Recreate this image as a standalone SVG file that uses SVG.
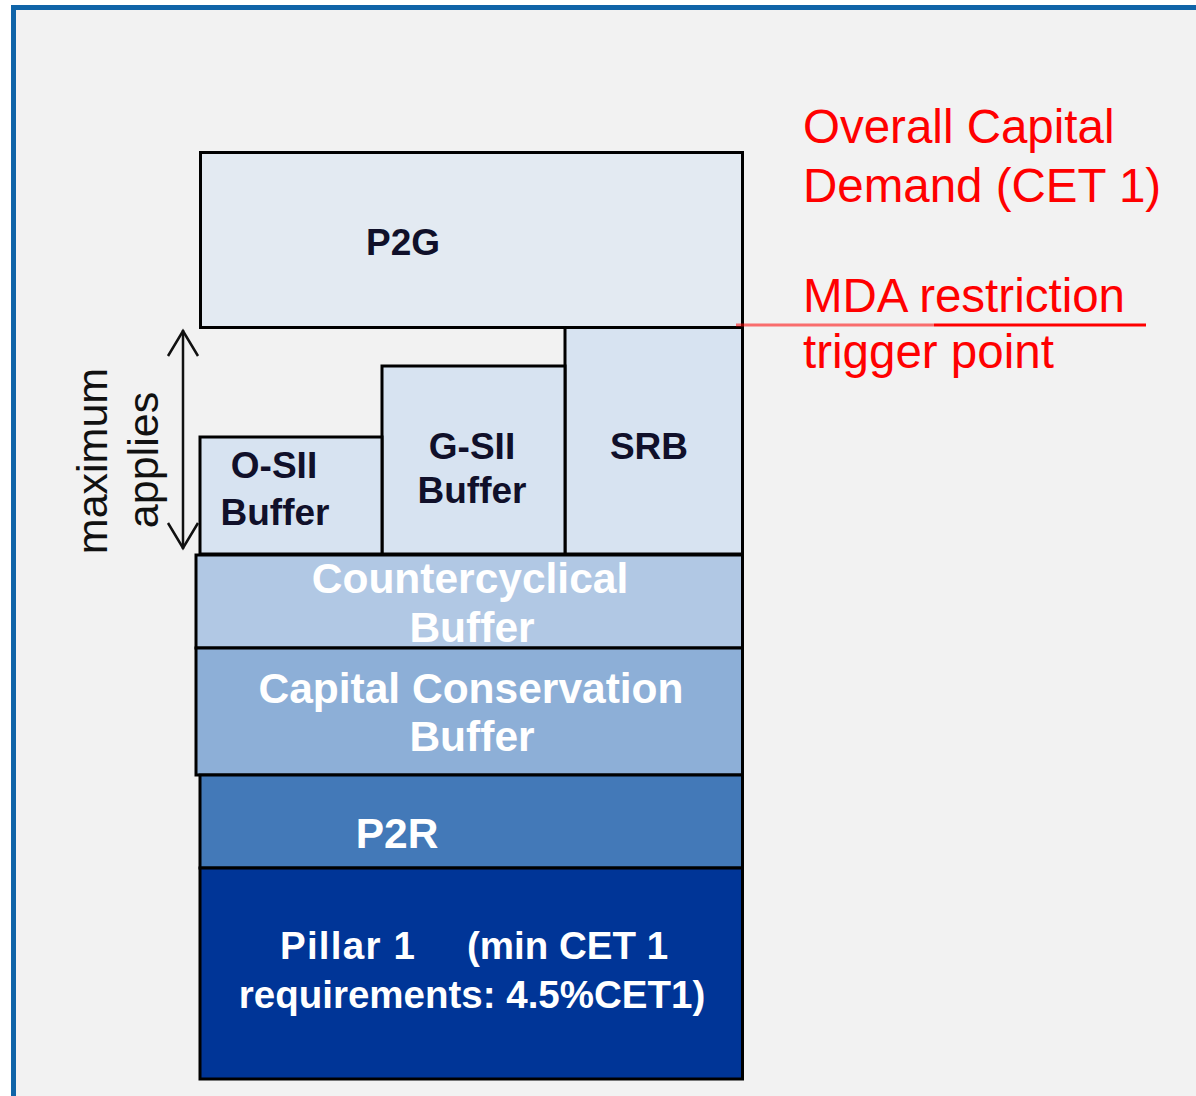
<svg xmlns="http://www.w3.org/2000/svg" width="1196" height="1096" viewBox="0 0 1196 1096">
<style>
.box{stroke:#000;stroke-width:3}
.dk{font-family:"Liberation Sans",Arial,sans-serif;font-weight:bold;font-size:37px;fill:#10102a;text-anchor:middle}
.wt{font-family:"Liberation Sans",Arial,sans-serif;font-weight:bold;font-size:42.5px;fill:#fff;text-anchor:middle}
.pl{font-family:"Liberation Sans",Arial,sans-serif;font-weight:bold;font-size:38.5px;fill:#fff}
.rd{font-family:"Liberation Sans",Arial,sans-serif;font-size:47.5px;fill:#ff0000}
.rot{font-family:"Liberation Sans",Arial,sans-serif;font-size:43px;fill:#111;text-anchor:middle}
</style>
<rect x="0" y="0" width="1196" height="1096" fill="#ffffff"/>
<rect x="13.5" y="7.5" width="1200" height="1100" fill="#f2f2f2" stroke="#1064a8" stroke-width="5"/>

<g id="p2g"><rect class="box" x="200.5" y="152.5" width="542" height="175" fill="#e3eaf2"/><text class="dk" x="403" y="255">P2G</text></g>
<g id="srb"><rect class="box" x="565" y="327.5" width="177.5" height="226.5" fill="#d7e3f1"/><text class="dk" x="649" y="459">SRB</text></g>
<g id="gsii"><rect class="box" x="382" y="366" width="183" height="188" fill="#d7e3f1"/><text class="dk" x="472" y="459">G-SII</text><text class="dk" x="472" y="503">Buffer</text></g>
<g id="osii"><rect class="box" x="200" y="437" width="182" height="117" fill="#d7e3f1"/><text class="dk" x="274" y="478">O-SII</text><text class="dk" x="275" y="525">Buffer</text></g>
<g id="ccyb"><rect class="box" x="196" y="555" width="546.5" height="93" fill="#b1c8e4"/><text class="wt" x="470" y="593">Countercyclical</text><text class="wt" x="472" y="642">Buffer</text></g>
<g id="ccb"><rect class="box" x="196" y="648" width="546.5" height="127" fill="#8dafd7"/><text class="wt" x="471" y="703">Capital Conservation</text><text class="wt" x="472" y="751">Buffer</text></g>
<g id="p2r"><rect class="box" x="200" y="775" width="542.5" height="93" fill="#4379b8"/><text class="wt" x="397" y="848">P2R</text></g>
<g id="pillar1"><rect class="box" x="200" y="868" width="542.5" height="211" fill="#003597"/><text class="pl" x="280" y="959" textLength="135" lengthAdjust="spacing">Pillar 1</text><text class="pl" x="467" y="959">(min CET 1</text><text class="pl" x="472" y="1008" text-anchor="middle">requirements: 4.5%CET1)</text></g>

<g id="connectors">
<g id="max-arrow" fill="none" stroke="#111" stroke-width="2.5">
<line x1="183" y1="330" x2="183" y2="549"/>
<polyline points="168,356 183,331 198,356"/>
<polyline points="168,523 183,548 198,523"/>
</g>
<g id="mda-line" stroke-width="3">
<line x1="736" y1="325" x2="934" y2="325" stroke="#ff0000" stroke-opacity="0.55"/>
<line x1="934" y1="325" x2="1146" y2="325" stroke="#ff0000"/>
</g>
</g>

<g id="max-label">
<text class="rot" transform="translate(107,461) rotate(-90)">maximum</text>
<text class="rot" transform="translate(158,460) rotate(-90)">applies</text>
</g>

<g id="ocd-label"><text class="rd" x="803" y="143">Overall Capital</text><text class="rd" x="803" y="202">Demand (CET 1)</text></g>
<g id="mda-label"><text class="rd" x="803" y="312">MDA restriction</text><text class="rd" x="803" y="368">trigger point</text></g>
</svg>
